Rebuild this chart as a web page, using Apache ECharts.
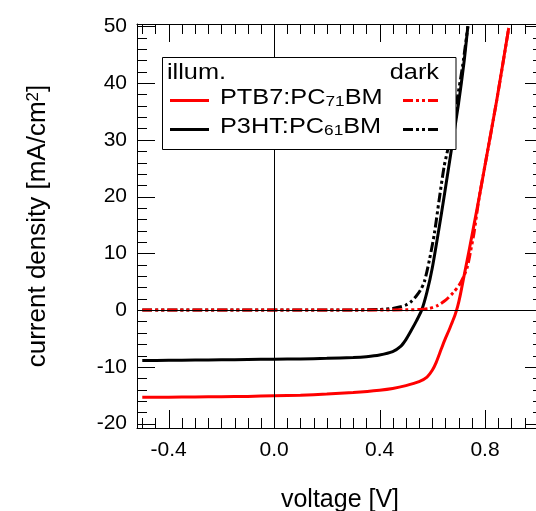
<!DOCTYPE html>
<html>
<head>
<meta charset="utf-8">
<script src="https://cdn.jsdelivr.net/npm/echarts@6/dist/echarts.min.js"></script>
<style>
  html, body { margin: 0; padding: 0; background: #fff; }
  #chart { width: 536px; height: 511px; }
</style>
</head>
<body>
<div id="chart"></div>
<script>
// Current density–voltage curves of two organic solar cells, under illumination and in the dark.
// Voltage in V, current density in mA/cm^2.

// PTB7:PC71BM, illuminated
const ptb7LightV = [-0.5, -0.4, -0.3, -0.2, -0.1, 0.0, 0.1, 0.2, 0.3, 0.4, 0.45, 0.5, 0.55, 0.58, 0.6, 0.615, 0.633, 0.648, 0.663, 0.675, 0.686, 0.696, 0.706, 0.72, 0.74, 0.777, 0.80, 0.845, 0.89];
const ptb7LightJ = [-15.35, -15.35, -15.3, -15.25, -15.2, -15.1, -15.0, -14.8, -14.5, -14.1, -13.8, -13.3, -12.6, -11.8, -10.6, -9.2, -7.0, -5.2, -3.6, -2.2, -0.9, 0.6, 2.6, 5.9, 10.6, 19.6, 25.5, 37.1, 49.7];

// PTB7:PC71BM, dark
const ptb7DarkV = [-0.5, -0.3, -0.1, 0.1, 0.3, 0.5, 0.55, 0.589, 0.62, 0.652, 0.68, 0.702, 0.72, 0.733, 0.745, 0.758, 0.777, 0.80, 0.845, 0.89];
const ptb7DarkJ = [0, 0, 0, 0, 0, 0.05, 0.1, 0.3, 0.8, 1.8, 3.1, 4.4, 6.0, 7.6, 10.3, 13.5, 19.6, 25.5, 37.1, 49.7];

// P3HT:PC61BM, illuminated
const p3htLightV = [-0.5, -0.4, -0.3, -0.2, -0.1, 0.0, 0.1, 0.2, 0.3, 0.35, 0.4, 0.45, 0.48, 0.5, 0.52, 0.54, 0.56, 0.58, 0.6, 0.633, 0.66, 0.68, 0.70, 0.72, 0.735];
const p3htLightJ = [-8.9, -8.85, -8.8, -8.75, -8.7, -8.65, -8.6, -8.5, -8.35, -8.2, -7.9, -7.3, -6.4, -5.2, -3.6, -1.9, 0, 3.2, 7.4, 16.5, 24.5, 30.5, 36.5, 43.5, 50];

// P3HT:PC61BM, dark
const p3htDarkV = [-0.5, -0.3, -0.1, 0.1, 0.3, 0.4, 0.45, 0.48, 0.5, 0.52, 0.538, 0.555, 0.57, 0.589, 0.608, 0.626, 0.645, 0.664, 0.69, 0.715, 0.735];
const p3htDarkJ = [0, 0, 0, 0, 0.02, 0.1, 0.3, 0.6, 0.9, 1.5, 2.4, 3.5, 5.0, 8.8, 13.5, 19.4, 25.3, 29.4, 36, 43, 50];

// Plot frame range and tick values
const X_MIN = -0.52, X_MAX = 1.02;
const Y_MIN = -20.77, Y_MAX = 50.4;
const xMajorTicks = [-0.4, 0.0, 0.4, 0.8];
const yMajorTicks = [-20, -10, 0, 10, 20, 30, 40, 50];
const X_MINOR_STEP = 0.05, Y_MINOR_STEP = 2;

function tickRange(from, to, step) {
  const out = [];
  const n = Math.round((to - from) / step);
  for (let i = 0; i <= n; i++) out.push(+(from + i * step).toFixed(4));
  return out;
}
const xMinorTicks = tickRange(-0.5, 1.0, X_MINOR_STEP);
const yMinorTicks = tickRange(-20, 50, Y_MINOR_STEP);

const FONT = '"Liberation Sans", Arial, Helvetica, sans-serif';
const RED = '#ff0000', BLACK = '#000000';
const MAJOR_LEN = 18, MINOR_LEN = 10;
const darkDash = [10, 3, 3, 3, 3, 3];

const pairs = (xs, ys) => xs.map((x, i) => [x, ys[i]]);

function frameAxis(kind, position, labels) {
  const isX = kind === 'x';
  return {
    type: 'value', position,
    min: isX ? X_MIN : Y_MIN, max: isX ? X_MAX : Y_MAX,
    axisLine: { show: true, onZero: false, lineStyle: { color: BLACK, width: 1 } },
    axisTick: { show: false },
    splitLine: { show: false },
    axisLabel: labels ? {
      show: true, color: BLACK, fontSize: 21, fontFamily: FONT,
      customValues: isX ? xMajorTicks : yMajorTicks,
      margin: isX ? 12 : 10,
      formatter: v => isX ? Number(v).toFixed(1) : String(Math.round(v))
    } : { show: false }
  };
}

const xBottom = frameAxis('x', 'bottom', true);
Object.assign(xBottom, {
  name: 'voltage [V]', nameLocation: 'middle', nameGap: 60, nameMoveOverlap: false,
  nameTextStyle: { color: BLACK, fontSize: 25, fontFamily: FONT }
});
const yLeft = frameAxis('y', 'left', true);
Object.assign(yLeft, {
  name: '{m|current density [mA/cm}{p|2}{m|]}', nameLocation: 'middle', nameGap: 86, nameMoveOverlap: false,
  nameTextStyle: {
    color: BLACK, fontFamily: FONT,
    rich: {
      m: { fontSize: 26, lineHeight: 26, fontFamily: FONT, color: BLACK, verticalAlign: 'bottom' },
      p: { fontSize: 17, lineHeight: 17, padding: [0, 0, 22, 0], fontFamily: FONT, color: BLACK, verticalAlign: 'top' }
    }
  }
});

const lineSeries = (name, xs, ys, color, dashed) => ({
  name, type: 'line', xAxisIndex: 0, yAxisIndex: 0,
  data: pairs(xs, ys), showSymbol: false, symbol: 'none',
  smooth: 0.25,
  lineStyle: { color, width: 3, type: dashed ? darkDash : 'solid' },
  animation: false
});

const zeroAxes = {
  type: 'line', xAxisIndex: 0, yAxisIndex: 0, data: [], silent: true,
  markLine: {
    silent: true, symbol: 'none', animation: false, label: { show: false },
    lineStyle: { color: BLACK, width: 1, type: 'solid' },
    data: [{ yAxis: 0 }, { xAxis: 0 }]
  }
};

const chart = echarts.init(document.getElementById('chart'), null, { renderer: 'canvas' });
chart.setOption({
  animation: false,
  backgroundColor: '#fff',
  grid: { left: 137, top: 24, width: 406, height: 404, containLabel: false, outerBoundsMode: 'none' },
  xAxis: [xBottom, frameAxis('x', 'top', false)],
  yAxis: [yLeft, frameAxis('y', 'right', false)],
  series: [
    zeroAxes,
    lineSeries('P3HT:PC61BM dark', p3htDarkV, p3htDarkJ, BLACK, true),
    lineSeries('P3HT:PC61BM illum.', p3htLightV, p3htLightJ, BLACK, false),
    lineSeries('PTB7:PC71BM dark', ptb7DarkV, ptb7DarkJ, RED, true),
    lineSeries('PTB7:PC71BM illum.', ptb7LightV, ptb7LightJ, RED, false)
  ]
});

// Inward tick marks on all four sides, placed with the axes' own scales
const toPxX = v => chart.convertToPixel({ xAxisIndex: 0 }, v);
const toPxY = v => chart.convertToPixel({ yAxisIndex: 0 }, v);
const frameLeft = toPxX(X_MIN), frameRight = toPxX(X_MAX);
const frameTop = toPxY(Y_MAX), frameBottom = toPxY(Y_MIN);
const crisp = v => Math.round(v) + 0.5;
const tickLine = (x1, y1, x2, y2) => ({
  type: 'line', z: 50, silent: true,
  shape: { x1, y1, x2, y2 }, style: { stroke: BLACK, lineWidth: 1 }
});
const tickMarks = [];
const isMajor = (v, majors) => majors.some(m => Math.abs(m - v) < 1e-6);
xMinorTicks.forEach(v => {
  const len = isMajor(v, xMajorTicks) ? MAJOR_LEN : MINOR_LEN;
  const x = crisp(toPxX(v));
  tickMarks.push(tickLine(x, frameBottom, x, frameBottom - len), tickLine(x, frameTop, x, frameTop + len));
});
yMinorTicks.forEach(v => {
  const len = isMajor(v, yMajorTicks) ? MAJOR_LEN : MINOR_LEN;
  const y = crisp(toPxY(v));
  tickMarks.push(tickLine(frameLeft, y, frameLeft + len, y), tickLine(frameRight, y, frameRight - len, y));
});

// Legend box (wide-set lettering)
const LG = { x: 162.5, y: 57.5, w: 293.5, h: 92 };
const TEXT_STRETCH = 1.15;
const legendFont = '22px ' + FONT;
const legendRich = {
  m: { fontSize: 22, lineHeight: 22, fontFamily: FONT, fill: BLACK, verticalAlign: 'top' },
  s: { fontSize: 15, lineHeight: 15, padding: [12, 0, 0, 0], fontFamily: FONT, fill: BLACK, verticalAlign: 'bottom' }
};
const legendText = (x, y, style) => ({ type: 'text', z: 101, x, y, scaleX: TEXT_STRETCH, style });
const legendItems = [
  { type: 'rect', z: 100, shape: { x: LG.x, y: LG.y, width: LG.w, height: LG.h },
    style: { fill: '#fff', stroke: BLACK, lineWidth: 1 } },
  legendText(167, 73, { text: 'illum.', font: legendFont, fill: BLACK, verticalAlign: 'middle' }),
  legendText(439, 73, { text: 'dark', font: legendFont, fill: BLACK, align: 'right', verticalAlign: 'middle' }),
  { type: 'line', z: 101, shape: { x1: 170, y1: 100.5, x2: 209, y2: 100.5 }, style: { stroke: RED, lineWidth: 3 } },
  { type: 'line', z: 101, shape: { x1: 170, y1: 129.5, x2: 209, y2: 129.5 }, style: { stroke: BLACK, lineWidth: 3 } },
  { type: 'line', z: 101, shape: { x1: 403, y1: 100.5, x2: 441, y2: 100.5 }, style: { stroke: RED, lineWidth: 3, lineDash: darkDash } },
  { type: 'line', z: 101, shape: { x1: 403, y1: 129.5, x2: 441, y2: 129.5 }, style: { stroke: BLACK, lineWidth: 3, lineDash: darkDash } },
  legendText(220, 98, { text: '{m|PTB7:PC}{s|71}{m|BM}', rich: legendRich, verticalAlign: 'middle' }),
  legendText(220, 127, { text: '{m|P3HT:PC}{s|61}{m|BM}', rich: legendRich, verticalAlign: 'middle' })
];

chart.setOption({ graphic: tickMarks.concat(legendItems) });
</script>
</body>
</html>
